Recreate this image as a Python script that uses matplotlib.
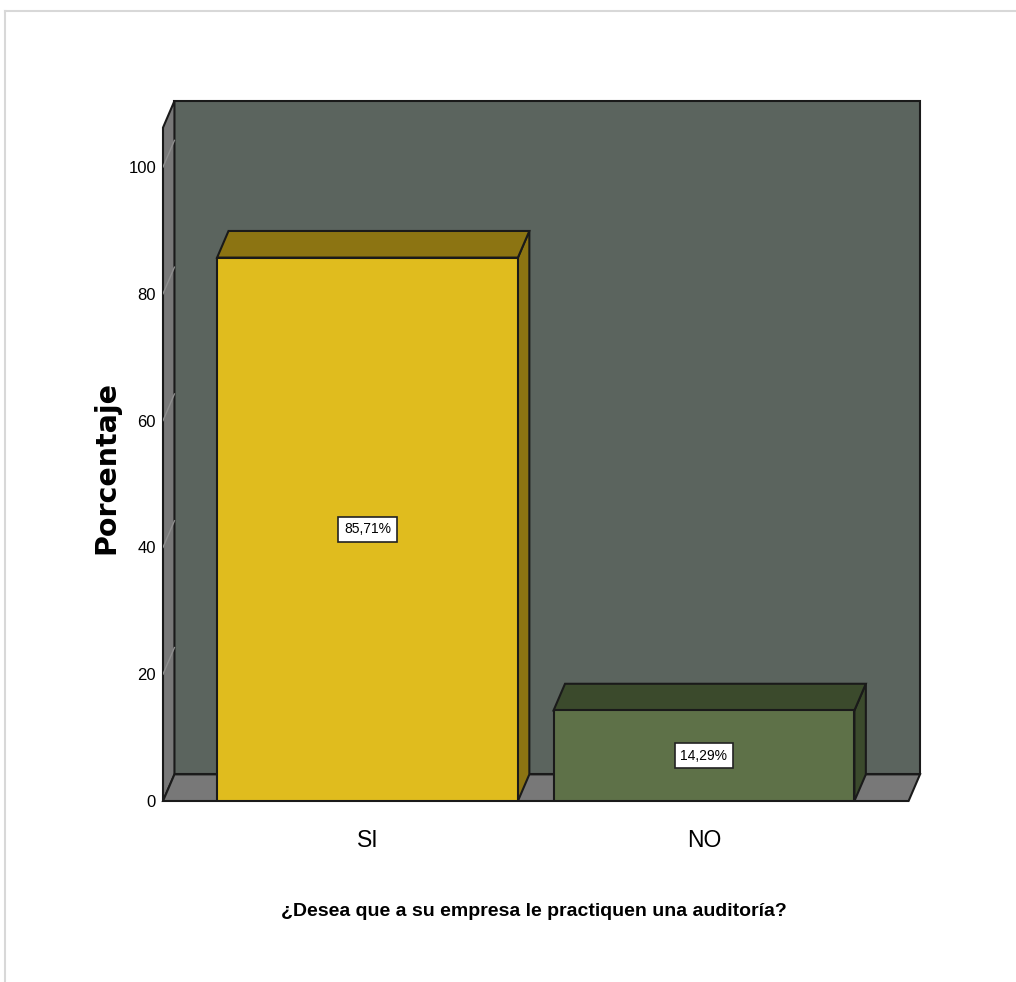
import numpy as np
import matplotlib
matplotlib.use('Agg')
import matplotlib.pyplot as plt
from matplotlib.patches import Polygon
from matplotlib.lines import Line2D

# datos de la encuesta
categorias = ['SI', 'NO']
porcentajes = [85.71, 14.29]
etiquetas = ['85,71%', '14,29%']
ticks_y = [0, 20, 40, 60, 80, 100]
titulo_x = '¿Desea que a su empresa le practiquen una auditoría?'
titulo_y = 'Porcentaje'

col_frente = ['#e0bc1e', '#5e7148']
col_techo = ['#8c7412', '#3b4a2c']
col_lado = ['#8c7412', '#3b4a2c']
col_pared = '#5b645e'
col_gris = '#787878'

fuente = ['Liberation Sans', 'DejaVu Sans']

fig = plt.figure(figsize=(10.16, 9.82), dpi=100)
ax = fig.add_axes([163/1016, 1 - 801/982, (922 - 163)/1016, 700/982])

ancho = 0.894
dx, dy = 0.034, 4.2
x0, x1 = -0.6077, 1.642
ymax = 700/6.34
ax.set_xlim(x0, x0 + (922 - 163)/336.5)
ax.set_ylim(0, ymax)

negro = dict(edgecolor='#1a1a1a', linewidth=1.5, joinstyle='miter')

# pared del fondo, pared izquierda y piso
ax.add_patch(Polygon([(x0 + dx, dy), (x1, dy), (x1, ymax), (x0 + dx, ymax)],
                     facecolor=col_pared, zorder=1, clip_on=False, **negro))
ax.add_patch(Polygon([(x0, 0), (x0 + dx, dy), (x0 + dx, ymax), (x0, ymax - dy)],
                     facecolor=col_gris, zorder=2, clip_on=False, **negro))
for t in ticks_y[1:]:
    ax.add_line(Line2D([x0, x0 + dx], [t, t + dy], color='#8e8e8e', lw=1, zorder=2.5))
ax.add_patch(Polygon([(x0, 0), (x1 - dx, 0), (x1, dy), (x0 + dx, dy)],
                     facecolor=col_gris, zorder=2, clip_on=False, **negro))

# barras 3d
xs = np.arange(len(categorias))
for i, (x, v) in enumerate(zip(xs, porcentajes)):
    xl, xr = x - ancho/2, x + ancho/2
    ax.add_patch(Polygon([(xr, 0), (xr + dx, dy), (xr + dx, v + dy), (xr, v)],
                         facecolor=col_lado[i], zorder=3, clip_on=False, **negro))
    ax.add_patch(Polygon([(xl, v), (xr, v), (xr + dx, v + dy), (xl + dx, v + dy)],
                         facecolor=col_techo[i], zorder=3, clip_on=False, **negro))
    ax.bar(x, v, width=ancho, color=col_frente[i], zorder=4, **negro)
    ax.text(x, v/2, etiquetas[i], ha='center', va='center', fontsize=10,
            family=fuente, zorder=5,
            bbox=dict(boxstyle='square,pad=0.4', facecolor='white',
                      edgecolor='#222222', linewidth=1.2))

for s in ax.spines.values():
    s.set_visible(False)
ax.set_yticks(ticks_y)
ax.set_yticklabels([str(t) for t in ticks_y], family=fuente, fontsize=12)
ax.set_xticks(xs)
ax.set_xticklabels(categorias, family=fuente, fontsize=16.5)
ax.tick_params(axis='y', length=0, pad=5)
ax.tick_params(axis='x', length=0, pad=20)
ax.set_facecolor('none')

fig.text(534/1016, 1 - 912/982, titulo_x, ha='center', va='center',
         fontsize=14, fontweight='bold', family=fuente)
fig.text(106/1016, 1 - 467/982, titulo_y, ha='center', va='center',
         rotation=90, fontsize=20.5, fontweight='bold', family='DejaVu Sans')

# marco gris claro
fig.add_artist(Line2D([5/1016, 1], [1 - 11/982, 1 - 11/982], color='#d8d8d8', lw=1.5))
fig.add_artist(Line2D([5/1016, 5/1016], [0, 1 - 11/982], color='#d8d8d8', lw=1.5))

fig.savefig('out.png', dpi=100)
